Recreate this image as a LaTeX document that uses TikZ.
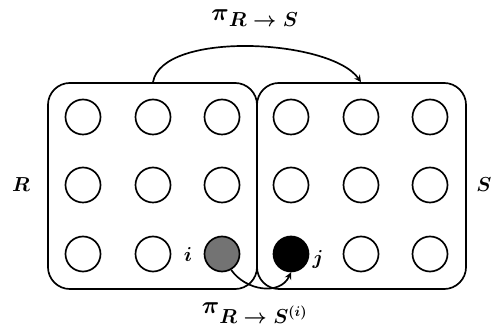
\documentclass[tikz,border=0pt]{standalone}
\usepackage{amsmath,amssymb}
\usepackage{tikz}
\usetikzlibrary{shapes,arrows,positioning,calc}

\begin{document}
\begin{tikzpicture}[x=0.025cm, y=-0.025cm, line width=1.2pt]
    % Define styles
    \tikzstyle{region} = [rectangle, draw=black, rounded corners=0.55cm, minimum width=5.225cm, minimum height=5.15cm, inner sep=0pt]
    \tikzstyle{site} = [circle, draw=black, minimum size=0.875cm, inner sep=0pt]
    \tikzstyle{lbl} = [font=\Large\boldmath, inner sep=1pt]
    \tikzstyle{map} = [-stealth, line width=1.2pt]

    \useasboundingbox (0,0) rectangle (492,333);

    % Regions
    \node[lbl] (labR) at (21,185) {$R$};
    \node[lbl] (labS) at (484,185) {$S$};
    \node[region] (boxR) at (152.5,186) {};
    \node[region] (boxS) at (361.5,186) {};

    % Sites of R and S
    \foreach \c/\x in {1/83,2/153,3/222}
        \foreach \r/\y in {1/117,2/185}
            \node[site] (r\r\c) at (\x,\y) {};
    \foreach \c/\x in {1/291,2/361,3/430}
        \foreach \r/\y in {1/117,2/185}
            \node[site] (s\r\c) at (\x,\y) {};
    \node[site] (r31) at (83,254) {};
    \node[site] (r32) at (153,254) {};
    \node[site, fill=black!55] (r33) at (222,254) {};
    \node[site, fill=black] (s31) at (291,254) {};
    \node[site] (s32) at (361,254) {};
    \node[site] (s33) at (430,254) {};
    \node[lbl] (labi) at (188,254) {$i$};
    \node[lbl] (labj) at (318,259) {$j$};

    % Mappings
    \draw[map] (r12 |- boxR.north) to[out=80, in=125, looseness=0.65] (s12 |- boxS.north);
    \node[lbl] (piRS) at (255,18) {$\mbox{\LARGE$\pi$}_{\textstyle R\rightarrow S}$};
    \draw[map] (r33.-60) to[out=-55, in=-115, looseness=1.1] (s31.south);
    \node[lbl] (piRSi) at (255,313) {$\mbox{\LARGE$\pi$}_{\textstyle R\rightarrow S^{(i)}}$};

\end{tikzpicture}
\end{document}
